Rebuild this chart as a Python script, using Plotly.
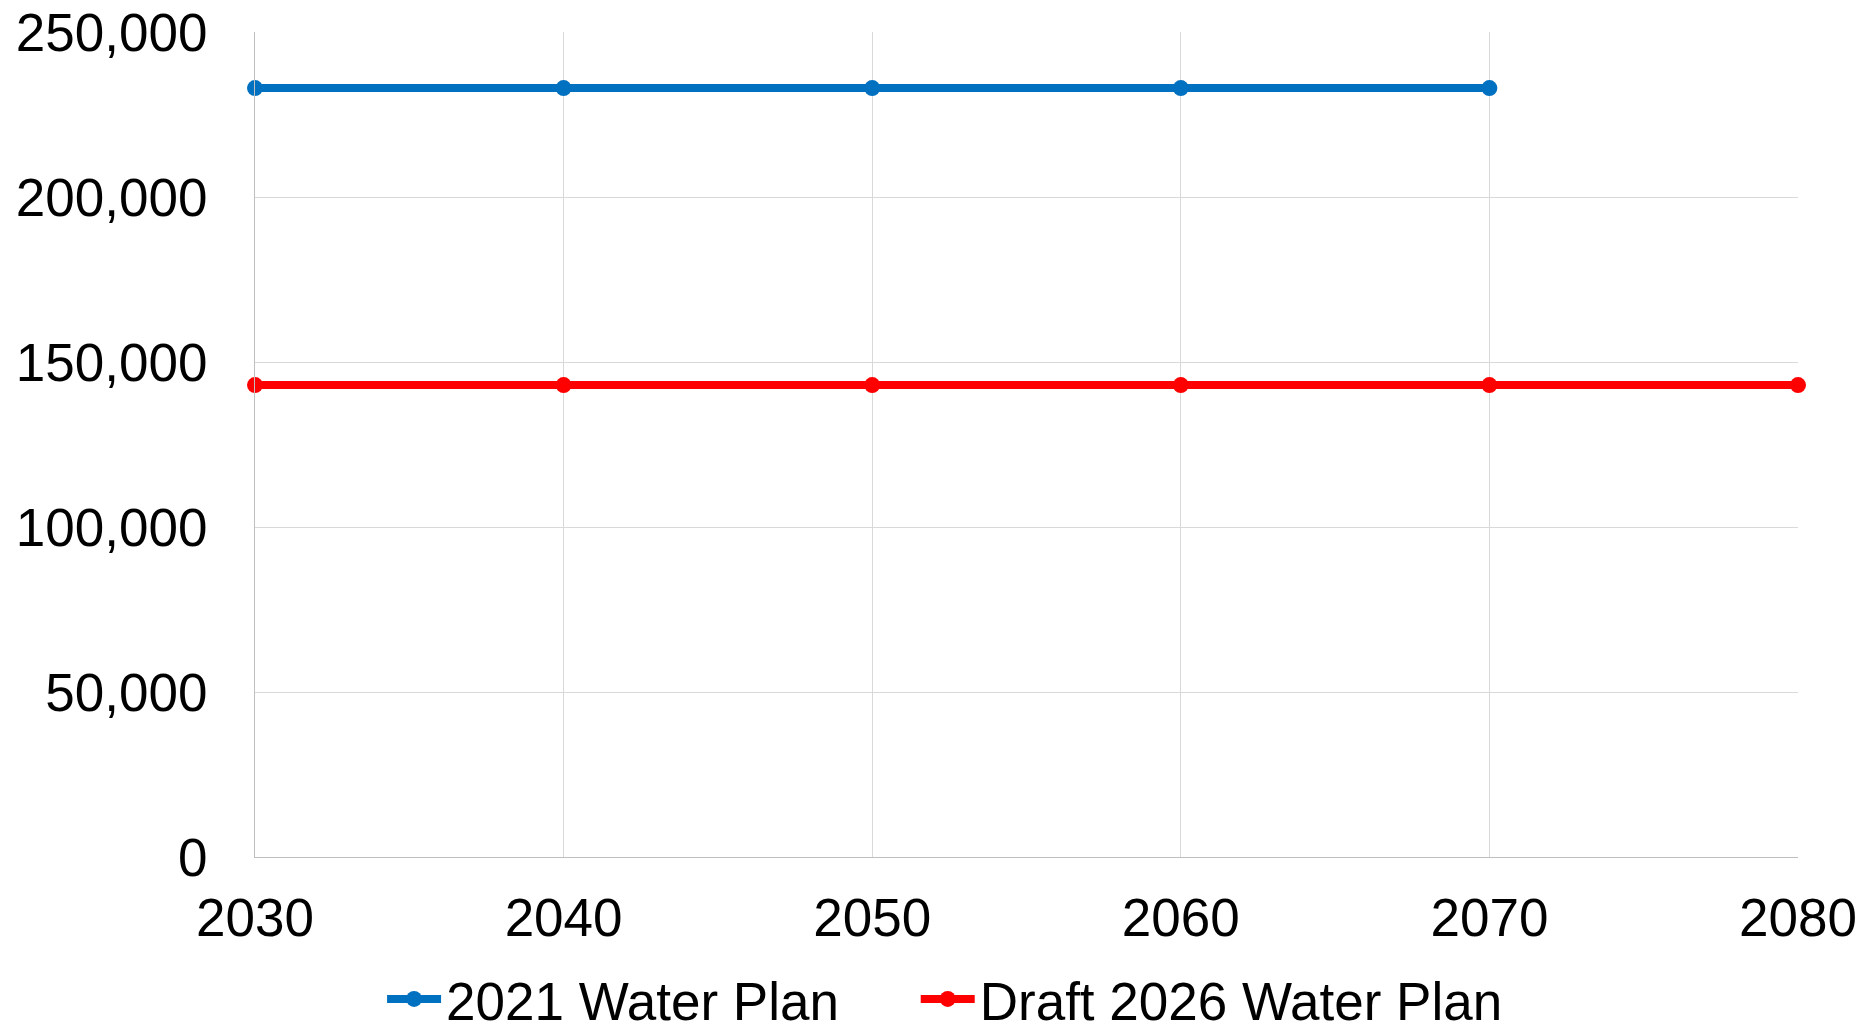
import plotly.graph_objects as go

years = [2030, 2040, 2050, 2060, 2070, 2080]
plan_2021 = [233000, 233000, 233000, 233000, 233000, None]
draft_2026 = [143000, 143000, 143000, 143000, 143000, 143000]
series_names = ["2021 Water Plan", "Draft 2026 Water Plan"]
y_ticks = [0, 50000, 100000, 150000, 200000, 250000]

FONT = "Liberation Sans, Arial, sans-serif"

fig = go.Figure()
fig.add_trace(go.Scatter(
    x=years, y=plan_2021, name=series_names[0], mode="lines+markers",
    line=dict(color="#0070C0", width=8), marker=dict(size=16, color="#0070C0"),
    cliponaxis=False, connectgaps=False, legend="legend",
))
fig.add_trace(go.Scatter(
    x=years, y=draft_2026, name=series_names[1], mode="lines+markers",
    line=dict(color="#FF0000", width=8), marker=dict(size=16, color="#FF0000"),
    cliponaxis=False, legend="legend2",
))

legend_common = dict(
    orientation="h", xref="container", yref="container",
    xanchor="left", y=0.0285, yanchor="middle",
    font=dict(family=FONT, size=53, color="black"),
    itemwidth=54, bgcolor="rgba(0,0,0,0)",
)

fig.update_layout(
    width=1862, height=1020,
    margin=dict(l=247, r=72, t=24, b=171, autoexpand=False),
    paper_bgcolor="white", plot_bgcolor="white",
    font=dict(family=FONT, size=53, color="black"),
    showlegend=True,
    legend=dict(legend_common, x=0.2009),
    legend2=dict(legend_common, x=0.4875),
    xaxis=dict(
        range=[2030, 2080], tickvals=years, showgrid=True, gridcolor="#D9D9D9",
        gridwidth=1, showline=True, linecolor="#BFBFBF", linewidth=1,
        zeroline=False, ticks="", ticklabelstandoff=14, automargin=False,
        ticklabeloverflow="allow",
    ),
    yaxis=dict(
        range=[0, 250000], tickvals=y_ticks, tickformat=",", showgrid=True,
        gridcolor="#D9D9D9", gridwidth=1, showline=True, linecolor="#BFBFBF",
        linewidth=1, zeroline=False, ticks="", ticklabelstandoff=36, automargin=False,
        ticklabeloverflow="allow",
    ),
)

fig.write_html("out.html")
